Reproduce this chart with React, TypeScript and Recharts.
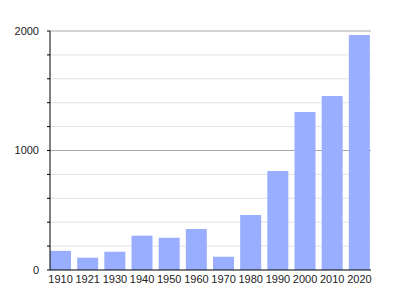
import React from "react";
import { BarChart, Bar, XAxis, YAxis, CartesianGrid } from "recharts";

const years = ["1910", "1921", "1930", "1940", "1950", "1960", "1970", "1980", "1990", "2000", "2010", "2020"];
const population = [160, 103, 153, 287, 270, 343, 111, 460, 828, 1322, 1456, 1967];
const yTicks = [0, 200, 400, 600, 800, 1000, 1200, 1400, 1600, 1800, 2000];
const minorTicks = [200, 400, 600, 800, 1200, 1400, 1600, 1800];
const majorTicks = [1000, 2000];
const labeledTicks = [0, 1000, 2000];

const data = years.map((y, i) => ({ year: y, value: population[i] }));

const font = { fontFamily: "Liberation Sans, Arial, sans-serif", fontSize: 11, fill: "#222" };

export default function App() {
  return (
    <div style={{ position: "absolute", left: 0, top: 0 }}>
      <BarChart
        width={400}
        height={300}
        data={data}
        margin={{ top: 31, right: 29, bottom: 0, left: 0 }}
        barSize={21}
      >
        <CartesianGrid vertical={false} stroke="#e2e2e2" horizontalValues={minorTicks} />
        <CartesianGrid vertical={false} stroke="#a8a8a8" horizontalValues={majorTicks} />
        <XAxis
          dataKey="year"
          height={30}
          tickLine={false}
          tickSize={0}
          tickMargin={5}
          interval={0}
          padding={{ left: -3, right: -2 }}
          axisLine={{ stroke: "#000" }}
          tick={font}
        />
        <YAxis
          width={50}
          domain={[0, 2000]}
          ticks={yTicks}
          interval={0}
          tickSize={3}
          tickMargin={8}
          tickLine={{ stroke: "#000" }}
          axisLine={{ stroke: "#000" }}
          tickFormatter={(v: number) => (labeledTicks.includes(v) ? String(v) : "")}
          tick={font}
        />
        <Bar dataKey="value" fill="#9aaeff" isAnimationActive={false} />
      </BarChart>
    </div>
  );
}
